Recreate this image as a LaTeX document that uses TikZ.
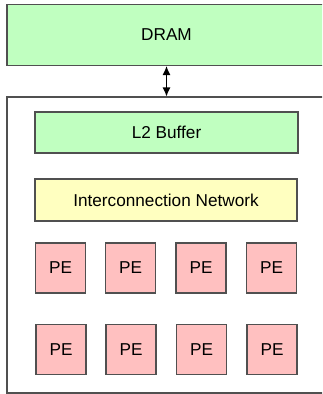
\documentclass[tikz,border=0pt]{standalone}
\usepackage{fontspec}
\setmainfont{Liberation Sans}
\usetikzlibrary{arrows.meta}
\definecolor{edge}{HTML}{505050}
\definecolor{memgreen}{HTML}{C0FFC0}
\definecolor{netyellow}{HTML}{FFFFC0}
\definecolor{pepink}{HTML}{FFC0C0}
\begin{document}
\begin{tikzpicture}[x=1pt,y=-1pt,
  blk/.style={draw=edge, line width=1.1pt, inner sep=0pt, font=\fontsize{17.2}{19}\selectfont, text=black},
  pebox/.style={blk, fill=pepink, minimum width=50pt, minimum height=50pt}]
\useasboundingbox (0,0) rectangle (322,394);
\clip (0,0) rectangle (322,394);
\node[blk, fill=memgreen, minimum width=319pt, minimum height=61pt] (dram) at (166.5,35) {DRAM};
\node[blk, minimum width=319pt, minimum height=296pt] (chip) at (166.5,245) {};
\node[blk, fill=memgreen, minimum width=263pt, minimum height=41pt] (l2) at (166.5,132.5) {L2 Buffer};
\node[blk, fill=netyellow, minimum width=262pt, minimum height=42pt] (net) at (166,200) {Interconnection Network};
\foreach \i/\x in {1/60.5,2/130.5,3/201,4/271.5}{
  \node[pebox] (pa\i) at (\x,268) {PE};
  \node[pebox] (pb\i) at (\x+0.5,349.5) {PE};
}
\draw[black, line width=1.1pt, {Latex[length=9pt,width=8pt]}-{Latex[length=9pt,width=8pt]}] (dram.south) -- (chip.north);
\end{tikzpicture}
\end{document}
